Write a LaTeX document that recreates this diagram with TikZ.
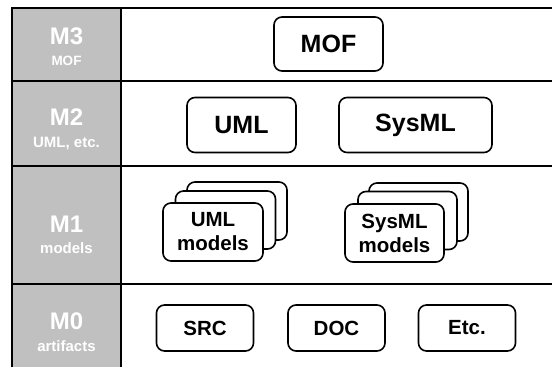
\documentclass[tikz,border=0pt]{standalone}
\usepackage{fontspec}
\setmainfont{Liberation Sans}
\begin{document}
\begin{tikzpicture}[x=1pt,y=-1pt,
  frame/.style={line width=1.8pt, black},
  card/.style={draw, line width=1.6pt, rounded corners=8pt, fill=white,
    inner sep=0pt, align=center, font=\bfseries\fontsize{20.5}{24}\selectfont},
  bigcard/.style={card, font=\bfseries\fontsize{25}{28}\selectfont},
  lvl/.style={text=white, font=\bfseries\fontsize{24}{26}\selectfont, inner sep=0pt},
  lvlsub/.style={text=white, font=\bfseries\fontsize{15}{17}\selectfont, inner sep=0pt}
]
\useasboundingbox (0,0) rectangle (552,367);
\definecolor{levelgray}{RGB}{192,192,192}

% level column and grid
\fill[levelgray] (12,8) rectangle (121,367);
\draw[frame] (12,367) -- (12,8) -- (552,8);
\draw[frame] (121,8) -- (121,367);
\draw[frame] (12,81) -- (552,81);
\draw[frame] (12,166) -- (552,166);
\draw[frame] (12,284) -- (552,284);

% level names
\node[lvl] (m3) at (66.5,36) {M3};
\node[lvlsub, font=\bfseries\fontsize{13.5}{15}\selectfont] (m3s) at (66.5,61) {MOF};
\node[lvl] (m2) at (66.5,117) {M2};
\node[lvlsub] (m2s) at (66.5,143) {UML, etc.};
\node[lvl] (m1) at (66.5,224) {M1};
\node[lvlsub] (m1s) at (66.5,248) {models};
\node[lvl] (m0) at (66.5,321) {M0};
\node[lvlsub] (m0s) at (66.5,346) {artifacts};

% M3
\node[bigcard, minimum width=109pt, minimum height=54pt] (mof) at (328.5,44) {MOF};

% M2
\node[bigcard, minimum width=109pt, minimum height=55pt] (uml) at (241.5,125) {UML};
\node[bigcard, minimum width=153pt, minimum height=55pt] (sysml) at (415.5,125) {SysML};

% M1: stacked model cards
\node[card, minimum width=100pt, minimum height=58pt] (umlc) at (237,211) {};
\node[card, minimum width=100pt, minimum height=58pt] (umlb) at (225.5,220) {};
\node[card, minimum width=100pt, minimum height=58pt] (umla) at (213,232) {UML\\models};

\node[card, minimum width=99pt, minimum height=58pt] (sysc) at (418.5,212) {};
\node[card, minimum width=99pt, minimum height=58pt] (sysb) at (407.5,220.5) {};
\node[card, minimum width=99pt, minimum height=58pt] (sysa) at (394.5,233) {SysML\\models};

% M0
\node[card, minimum width=97pt, minimum height=46pt] (src) at (205,328) {SRC};
\node[card, minimum width=97pt, minimum height=46pt] (doc) at (336.5,328) {DOC};
\node[card, minimum width=97pt, minimum height=46pt] (etc) at (467,328) {Etc.};
\end{tikzpicture}
\end{document}
